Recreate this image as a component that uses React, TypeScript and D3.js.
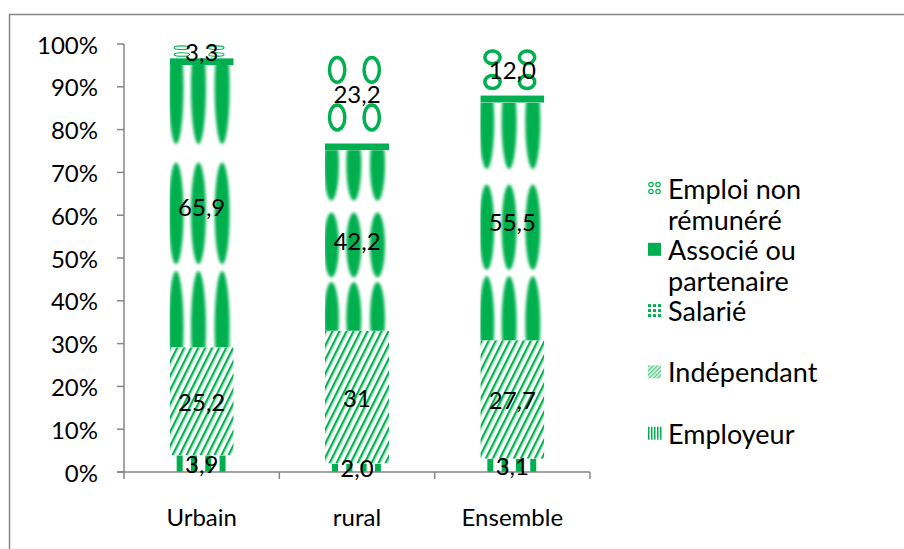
import React from "react";
import * as d3 from "d3";

// ---- data ----
const categories = ["Urbain", "rural", "Ensemble"];
const employeur = [3.9, 2.0, 3.1];
const independant = [25.2, 31, 27.7];
const salarie = [65.9, 42.2, 55.5];
const associe = [1.6, 1.6, 1.7];
const nonRemunere = [3.3, 23.2, 12.0];
const employeurLabels = ["3,9", "2,0", "3,1"];
const independantLabels = ["25,2", "31", "27,7"];
const salarieLabels = ["65,9", "42,2", "55,5"];
const nonRemunereLabels = ["3,3", "23,2", "12,0"];
const legendNames = [
  ["Emploi non", "rémunéré"],
  ["Associé ou", "partenaire"],
  ["Salarié"],
  ["Indépendant"],
  ["Employeur"],
];
const yTicks = [0, 10, 20, 30, 40, 50, 60, 70, 80, 90, 100];

const GREEN = "#00B050";
const FONT = "Lato, 'Open Sans', sans-serif";
const FS = 24;
const LFS = 27;

const seriesKeys = ["employeur", "independant", "salarie", "associe", "nonRemunere"];
const seriesValues: Record<string, number[]> = { employeur, independant, salarie, associe, nonRemunere };
const seriesLabels: Record<string, (string | null)[]> = {
  employeur: employeurLabels,
  independant: independantLabels,
  salarie: salarieLabels,
  associe: [null, null, null],
  nonRemunere: nonRemunereLabels,
};

export default function App() {
  const W = 904, H = 549;
  const y = d3.scaleLinear().domain([0, 100]).range([472, 44]);
  const x = d3.scaleBand<string>().domain(categories).range([124, 590]).paddingInner(0.588).paddingOuter(0.294);

  const rows = categories.map((c, i) => {
    const r: any = { cat: c };
    seriesKeys.forEach((k) => (r[k] = seriesValues[k][i]));
    return r;
  });
  const totals = rows.map((r) => seriesKeys.reduce((s, k) => s + r[k], 0));
  const norm = rows.map((r, i) => {
    const o: any = { cat: r.cat };
    seriesKeys.forEach((k) => (o[k] = (r[k] / totals[i]) * 100));
    return o;
  });
  const stacked = d3.stack<any>().keys(seriesKeys)(norm);

  const segs: any[] = [];
  stacked.forEach((layer) => {
    layer.forEach((d, i) => {
      const x0 = x(categories[i])!;
      const w = x.bandwidth();
      const y0 = y(d[1]);
      const y1 = y(d[0]);
      segs.push({ key: layer.key, i, x0, w, y0, h: y1 - y0, label: seriesLabels[layer.key][i] });
    });
  });

  const renderSeg = (s: any, idx: number) => {
    const clipId = `clip-${idx}`;
    const { x0, w, y0, h } = s;
    let content: React.ReactNode = null;
    if (s.key === "associe") {
      content = <rect x={x0} y={y0} width={w} height={h} fill={GREEN} />;
    } else if (s.key === "independant") {
      content = <rect x={x0} y={y0} width={w} height={h} fill="url(#hatch)" />;
    } else if (s.key === "employeur") {
      const offs = d3.range(4).map((k) => 7 + k * 14.3);
      content = offs.map((o, k) => (
        <rect key={k} x={x0 + o} y={y0} width={6} height={h} fill={GREEN} />
      ));
    } else if (s.key === "salarie") {
      const cols = [0.1, 0.45, 0.82];
      const rowsDef = [
        [0.08, 0.2],
        [0.525, 0.18],
        [0.93, 0.2],
      ];
      const els: React.ReactNode[] = [];
      rowsDef.forEach(([cf, rf], r) => {
        cols.forEach((xf, k) => {
          els.push(
            <ellipse
              key={`${r}-${k}`}
              cx={x0 + xf * w}
              cy={y0 + cf * h}
              rx={7.5}
              ry={rf * h}
              fill={GREEN}
              filter="url(#soft)"
            />
          );
        });
      });
      content = els;
    } else if (s.key === "nonRemunere") {
      const cols = [0.19, 0.73];
      const rws = [0.26, 0.74];
      const sw = Math.min(3.5, h * 0.08);
      const els: React.ReactNode[] = [];
      rws.forEach((rf, r) =>
        cols.forEach((cf, k) => {
          els.push(
            <ellipse
              key={`${r}-${k}`}
              cx={x0 + cf * w}
              cy={y0 + rf * h}
              rx={w * 0.12}
              ry={h * 0.125}
              fill="none"
              stroke={GREEN}
              strokeWidth={sw}
              filter="url(#soft2)"
            />
          );
        })
      );
      content = els;
    }
    return (
      <g key={idx}>
        <clipPath id={clipId}>
          <rect x={x0} y={y0} width={w} height={h} />
        </clipPath>
        <g clipPath={`url(#${clipId})`}>
          <rect x={x0} y={y0} width={w} height={h} fill="#fff" />
          {content}
        </g>
      </g>
    );
  };

  const axisColor = "#868686";
  const legendX = 648;
  const legendTextX = 668;
  const legendY0 = 188;
  const legendStep = 61.3;
  const lineH = 31;

  const legendIcon = (k: number, cy: number) => {
    const ix = legendX, s = 13, top = cy - s / 2;
    if (k === 0) {
      return (
        <g>
          {[0, 1].map((r) =>
            [0, 1].map((c) => (
              <circle key={`${r}${c}`} cx={ix + 3 + c * 7} cy={top + 3 + r * 7} r={2.2} fill="none" stroke={GREEN} strokeWidth={1.2} />
            ))
          )}
        </g>
      );
    }
    if (k === 1) return <rect x={ix} y={top} width={s} height={s} fill={GREEN} />;
    if (k === 2) {
      return (
        <g>
          {[0, 1, 2].map((r) =>
            [0, 1, 2].map((c) => (
              <rect key={`${r}${c}`} x={ix + c * 5} y={top + r * 5} width={3} height={3} fill={GREEN} />
            ))
          )}
        </g>
      );
    }
    if (k === 3) return <rect x={ix} y={top} width={s} height={s} fill="url(#hatchSmall)" />;
    return (
      <g>
        {[0, 1, 2, 3, 4].map((c) => (
          <rect key={c} x={ix + c * 3} y={top} width={1.5} height={s} fill={GREEN} />
        ))}
      </g>
    );
  };

  return (
    <svg width={W} height={H} style={{ position: "absolute", left: 0, top: 0 }} fontFamily={FONT}>
      <defs>
        <pattern id="hatch" patternUnits="userSpaceOnUse" width={7} height={20} patternTransform="skewX(-26.57)">
          <rect width={7} height={20} fill="#fff" />
          <rect x={0} width={2} height={20} fill={GREEN} />
          <rect x={2} width={1.5} height={20} fill="#8fdcb0" />
        </pattern>
        <pattern id="hatchSmall" patternUnits="userSpaceOnUse" width={3} height={3} patternTransform="rotate(45)">
          <rect width={3} height={3} fill="#c8eed8" />
          <rect width={1} height={3} fill="#5cc98c" />
        </pattern>
        <filter id="soft" x="-50%" y="-50%" width="200%" height="200%">
          <feGaussianBlur stdDeviation={1.6} />
        </filter>
        <filter id="soft2" x="-50%" y="-50%" width="200%" height="200%">
          <feGaussianBlur stdDeviation={0.6} />
        </filter>
      </defs>
      <rect x={0} y={0} width={W} height={H} fill="#fff" />
      <rect x={9.5} y={14.5} width={W + 20} height={H + 20} fill="none" stroke={axisColor} strokeWidth={1.5} />

      {segs.map(renderSeg)}

      {/* axes */}
      <line x1={124} x2={124} y1={y(100)} y2={y(0)} stroke={axisColor} strokeWidth={1.5} />
      {yTicks.map((t) => (
        <g key={t}>
          <line x1={117} x2={124} y1={y(t)} y2={y(t)} stroke={axisColor} strokeWidth={1.5} />
          <text x={98} y={y(t)} textAnchor="end" dominantBaseline="central" fontSize={FS} fill="#000">
            {t}%
          </text>
        </g>
      ))}
      <line x1={117} x2={590} y1={y(0)} y2={y(0)} stroke={axisColor} strokeWidth={1.5} />
      {[124, ...categories.map((c) => x(c)! + x.bandwidth() / 2 + x.step() / 2)].map((tx, k) => (
        <line key={k} x1={tx} x2={tx} y1={y(0)} y2={y(0) + 7} stroke={axisColor} strokeWidth={1.5} />
      ))}
      {categories.map((c) => (
        <text key={c} x={x(c)! + x.bandwidth() / 2} y={516} textAnchor="middle" dominantBaseline="central" fontSize={FS} fill="#000">
          {c}
        </text>
      ))}

      {/* data labels */}
      {segs
        .filter((s) => s.label)
        .map((s, k) => (
          <text key={k} x={s.x0 + s.w / 2} y={s.y0 + s.h / 2} textAnchor="middle" dominantBaseline="central" fontSize={FS} fill="#000">
            {s.label}
          </text>
        ))}

      {/* legend */}
      {legendNames.map((lines, k) => {
        const cy = legendY0 + k * legendStep;
        return (
          <g key={k}>
            {legendIcon(k, cy)}
            {lines.map((ln, j) => (
              <text key={j} x={legendTextX} y={cy + j * lineH} dominantBaseline="central" fontSize={LFS} fill="#000">
                {ln}
              </text>
            ))}
          </g>
        );
      })}
    </svg>
  );
}
